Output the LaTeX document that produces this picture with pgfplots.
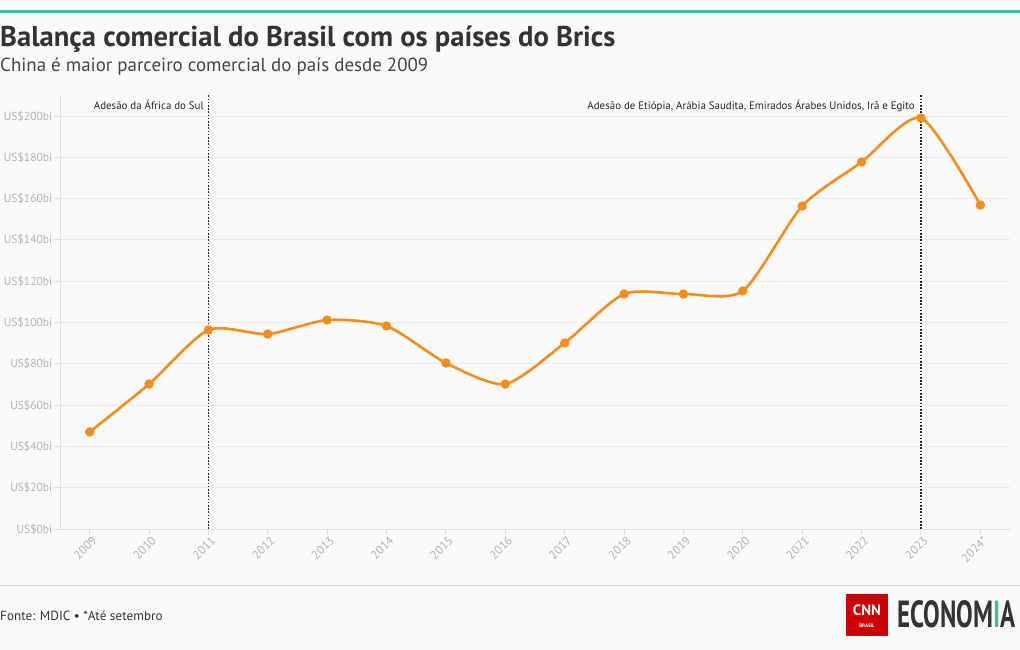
\documentclass[border=0pt]{standalone}
\usepackage{pgfplots}
\pgfplotsset{compat=1.18}
\usepackage{fontspec}
\setmainfont{PT Sans}
\definecolor{bg}{HTML}{FAFAFA}
\definecolor{teal}{HTML}{4DB6A0}
\definecolor{lineor}{HTML}{F68C1C}
\definecolor{ttl}{HTML}{333333}
\definecolor{sub}{HTML}{444444}
\definecolor{tick}{HTML}{B3B3B3}
\definecolor{gridc}{HTML}{EBEBEB}
\definecolor{cnnred}{HTML}{CC0000}
\pgfplotstableread{
year value
2009 47.0
2010 70.2
2011 96.4
2012 94.4
2013 101.2
2014 98.3
2015 80.4
2016 70.2
2017 90.1
2018 113.8
2019 113.8
2020 115.3
2021 156.4
2022 177.7
2023 199.0
2024 156.9
}\datatable
\begin{document}
\begin{tikzpicture}[x=1pt,y=1pt]
\path[use as bounding box] (0,0) rectangle (1020,650);
\fill[bg] (0,0) rectangle (1020,650);
\fill[teal] (0,636.5) rectangle (1020,639.5);
\node[anchor=base west,inner sep=0,text=ttl] at (0,603) {\resizebox{615pt}{!}{\bfseries Balança comercial do Brasil com os países do Brics}};
\node[anchor=base west,inner sep=0,text=sub] at (0,578.5) {\resizebox{428pt}{!}{China é maior parceiro comercial do país desde 2009}};
\draw[gridc!80!gray,line width=1pt] (0,64) -- (1020,64);
\node[anchor=base west,inner sep=0,text=ttl,font=\fontsize{13.2}{15}\selectfont] at (0,29) {Fonte: MDIC • *Até setembro};
\fill[cnnred] (846,14) rectangle (888,56);
\node[text=white,inner sep=0,font=\bfseries\fontsize{15}{15}\selectfont] at (867,40) {CNN};
\node[text=white,inner sep=0,font=\bfseries\fontsize{5}{5}\selectfont] at (867,24) {BRASIL};
\node[anchor=base west,inner sep=0,text=ttl] at (897,22) {\resizebox{118pt}{27pt}{\bfseries ECONOM{\color{teal}I}A}};
\begin{axis}[
  at={(60pt,121pt)}, anchor=south west,
  scale only axis, width=950pt, height=433.65pt,
  xmin=2008.5, xmax=2024.5, ymin=0, ymax=210,
  axis lines*=left,
  axis line style={draw=gridc!90!gray, line width=0.8pt},
  tick align=outside, major tick length=6pt,
  tick style={draw=gridc!90!gray, line width=0.8pt},
  ytick={0,20,...,200},
  yticklabels={US\$0bi,US\$20bi,US\$40bi,US\$60bi,US\$80bi,US\$100bi,US\$120bi,US\$140bi,US\$160bi,US\$180bi,US\$200bi},
  xtick={2009,...,2024},
  xticklabels={2009,2010,2011,2012,2013,2014,2015,2016,2017,2018,2019,2020,2021,2022,2023,2024*},
  ymajorgrids, grid style={draw=gridc, line width=0.8pt},
  yticklabel style={text=tick, font=\fontsize{11.6}{12}\selectfont, inner sep=1.5pt},
  xticklabel style={text=tick, font=\fontsize{12}{12}\selectfont, rotate=45, anchor=east, inner sep=1pt, yshift=-6pt, xshift=2pt},
  clip=false,
]
\addplot[black!85, line width=1.8pt, dash pattern=on 1.5pt off 1.7pt] coordinates {(2011,0) (2011,210)};
\addplot[black!85, line width=1.8pt, dash pattern=on 1.5pt off 1.7pt] coordinates {(2023,0) (2023,210)};
\addplot[lineor, line width=2.6pt, smooth, tension=0.42, mark=*, mark size=3.3pt, mark options={fill=lineor, draw=none}] table[x=year,y=value] {\datatable};
\end{axis}
\node[anchor=base east,inner sep=0,text=black!85,font=\fontsize{10.9}{12}\selectfont] at (204,540) {Adesão da África do Sul};
\node[anchor=base east,inner sep=0,text=black!85,font=\fontsize{10.9}{12}\selectfont] at (915,540) {Adesão de Etiópia, Arábia Saudita, Emirados Árabes Unidos, Irã e Egito};
\end{tikzpicture}
\end{document}
